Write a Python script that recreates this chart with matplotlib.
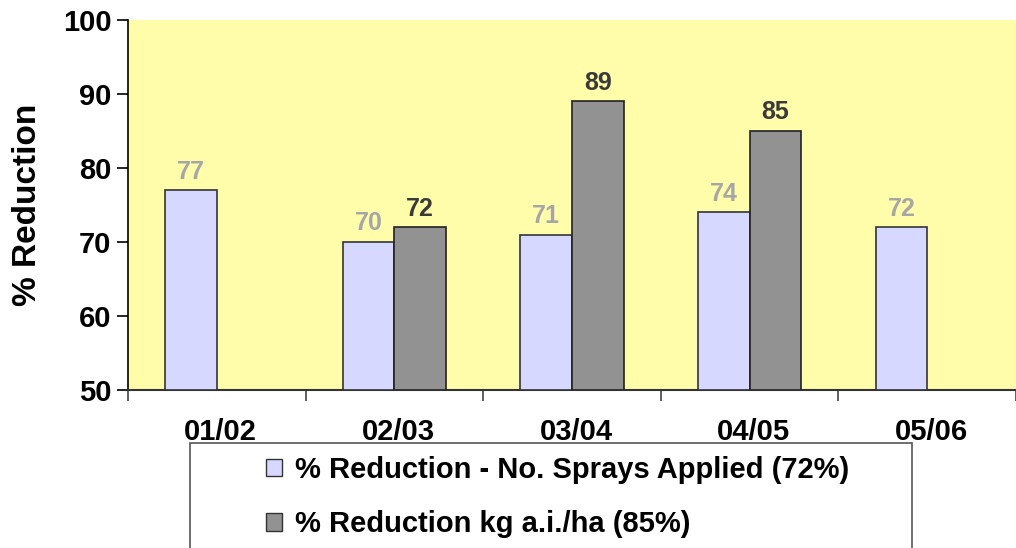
import numpy as np
import matplotlib.pyplot as plt
from matplotlib.patches import Rectangle, Patch
from matplotlib.transforms import ScaledTranslation

plt.rcParams['font.family'] = ['Liberation Sans', 'DejaVu Sans']
plt.rcParams['font.weight'] = 'bold'

# data
seasons = ['01/02', '02/03', '03/04', '04/05', '05/06']
sprays = [77, 70, 71, 74, 72]
kg_ai = [np.nan, 72, 89, 85, np.nan]
lbl_sprays = '% Reduction - No. Sprays Applied (72%)'
lbl_kg = '% Reduction kg a.i./ha (85%)'

fig = plt.figure(figsize=(10.16, 5.48), dpi=100)
ax = fig.add_axes([128/1016, 1 - 390/548, 888/1016, 370/548])
ax.set_facecolor('#FFFCAA')

x = np.arange(len(seasons))
w = 0.29
ax.bar(x - w/2, np.array(sprays) - 50, w, bottom=50, color='#D7D8FF',
       edgecolor='#333333', linewidth=1.2, zorder=3)
ax.bar(x + w/2, np.array(kg_ai) - 50, w, bottom=50, color='#929292',
       edgecolor='#222222', linewidth=1.2, zorder=3)

for xi, v in zip(x, sprays):
    ax.text(xi - w/2, v + 0.9, str(v), ha='center', va='bottom',
            fontsize=18, fontweight='bold', color='#A6A6A6')
for xi, v in zip(x, kg_ai):
    if not np.isnan(v):
        ax.text(xi + w/2, v + 0.9, str(int(v)), ha='center', va='bottom',
                fontsize=18, fontweight='bold', color='#3A3A3A')

ax.set_ylim(50, 100)
ax.set_xlim(-0.5, 4.46)
ax.set_yticks(np.arange(50, 101, 10))
ax.tick_params(axis='y', direction='out', length=8, width=1.2, pad=4,
               labelsize=21, colors='black')
ax.set_xticks(x)
ax.set_xticklabels(seasons, fontsize=21, fontweight='bold')
ax.set_xticks(np.arange(-0.5, 5, 1), minor=True)
ax.tick_params(axis='x', which='major', length=0, pad=20)
ax.tick_params(axis='x', which='minor', direction='out', length=8,
               width=1.2, color='#444444')
# labels sit a few px right of centre in the original
off = ScaledTranslation(4/100, 0, fig.dpi_scale_trans)
for lab in ax.get_xticklabels():
    lab.set_transform(lab.get_transform() + off)
for lab in ax.get_yticklabels():
    lab.set_fontweight('bold')

ax.spines['top'].set_visible(False)
ax.spines['right'].set_visible(False)
ax.spines['left'].set_linewidth(1.2)
ax.spines['bottom'].set_linewidth(1.5)
ax.spines['bottom'].set_color('#333333')

ax.set_ylabel('% Reduction', fontsize=24, fontweight='bold', labelpad=14)

# legend box, runs past the bottom edge
fig.patches.append(Rectangle((190/1016, -0.05), 722/1016, 1 - 443/548 + 0.05,
                             transform=fig.transFigure, fill=False,
                             edgecolor='#555555', linewidth=1.2))
handles = [Patch(facecolor='#D7D8FF', edgecolor='#333333'),
           Patch(facecolor='#929292', edgecolor='#333333')]
fig.legend(handles, [lbl_sprays, lbl_kg], loc='upper left',
           bbox_to_anchor=(266/1016, 1 - 456/548), frameon=False,
           prop={'size': 21, 'weight': 'bold'}, handlelength=0.55,
           handleheight=0.55, handletextpad=0.45, labelspacing=0.9,
           borderaxespad=0, borderpad=0)

fig.savefig('out.png', dpi=100)
